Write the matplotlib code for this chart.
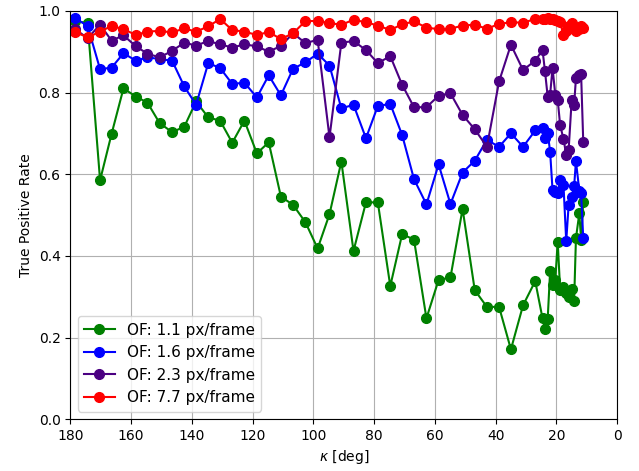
import numpy as np
import matplotlib
matplotlib.use('Agg')
import matplotlib.pyplot as plt

kappa = np.array([178.4, 174.3, 170.2, 166.4, 162.5, 158.4, 154.6, 150.6, 146.5, 142.5,
                  138.6, 134.6, 130.7, 126.7, 122.7, 118.6, 114.7, 110.7, 106.7, 102.6,
                  98.6, 94.7, 90.8, 86.8, 82.7, 78.8, 74.7, 70.8, 66.9, 62.8,
                  58.8, 54.9, 50.9, 46.9, 42.9, 38.9, 35.0, 31.0, 27.0,
                  24.6, 23.8, 22.9, 22.1, 21.3, 20.4, 19.6, 18.8, 17.7, 16.8,
                  16.0, 15.0, 14.2, 13.6, 12.5, 11.9, 11.2])

tpr_11 = [0.975, 0.970, 0.585, 0.699, 0.810, 0.790, 0.775, 0.725, 0.703, 0.716,
          0.778, 0.739, 0.731, 0.677, 0.731, 0.651, 0.678, 0.545, 0.525, 0.482,
          0.418, 0.502, 0.631, 0.412, 0.531, 0.531, 0.326, 0.453, 0.440, 0.247,
          0.341, 0.347, 0.515, 0.316, 0.275, 0.275, 0.171, 0.279, 0.338,
          0.247, 0.220, 0.245, 0.363, 0.328, 0.340, 0.435, 0.316, 0.324, 0.310,
          0.300, 0.320, 0.289, 0.443, 0.504, 0.440, 0.533]

tpr_16 = [0.982, 0.963, 0.857, 0.861, 0.896, 0.878, 0.886, 0.882, 0.878, 0.815,
          0.770, 0.872, 0.860, 0.821, 0.824, 0.788, 0.842, 0.793, 0.858, 0.874,
          0.895, 0.866, 0.761, 0.770, 0.688, 0.767, 0.772, 0.696, 0.588, 0.526,
          0.624, 0.527, 0.604, 0.633, 0.684, 0.667, 0.700, 0.667, 0.707,
          0.712, 0.688, 0.702, 0.655, 0.561, 0.557, 0.553, 0.586, 0.573, 0.436,
          0.525, 0.545, 0.570, 0.632, 0.560, 0.553, 0.443]

tpr_23 = [0.955, 0.933, 0.966, 0.927, 0.940, 0.913, 0.895, 0.886, 0.902, 0.922,
          0.915, 0.926, 0.918, 0.910, 0.918, 0.913, 0.900, 0.914, 0.945, 0.921,
          0.929, 0.690, 0.922, 0.926, 0.904, 0.872, 0.889, 0.819, 0.764, 0.764,
          0.792, 0.798, 0.745, 0.710, 0.667, 0.827, 0.917, 0.855, 0.878,
          0.904, 0.853, 0.790, 0.795, 0.860, 0.795, 0.782, 0.720, 0.686, 0.648,
          0.660, 0.782, 0.770, 0.835, 0.843, 0.845, 0.680]

tpr_77 = [0.948, 0.935, 0.949, 0.963, 0.955, 0.941, 0.949, 0.951, 0.947, 0.957,
          0.949, 0.962, 0.980, 0.953, 0.949, 0.941, 0.948, 0.931, 0.945, 0.975,
          0.975, 0.970, 0.966, 0.978, 0.972, 0.964, 0.953, 0.967, 0.974, 0.959,
          0.955, 0.956, 0.964, 0.966, 0.956, 0.968, 0.972, 0.971, 0.980,
          0.979, 0.981, 0.982, 0.981, 0.980, 0.977, 0.975, 0.972, 0.940, 0.950,
          0.962, 0.970, 0.955, 0.950, 0.955, 0.962, 0.958]

labels = ['OF: 1.1 px/frame', 'OF: 1.6 px/frame', 'OF: 2.3 px/frame', 'OF: 7.7 px/frame']
colors = ['green', 'blue', 'indigo', 'red']

fig, ax = plt.subplots(figsize=(6.39, 4.71), dpi=100)
fig.subplots_adjust(left=0.11, right=0.966, top=0.977, bottom=0.11)

for y, lab, c in zip([tpr_11, tpr_16, tpr_23, tpr_77], labels, colors):
    ax.plot(kappa, y, '-o', color=c, label=lab, markersize=7, linewidth=1.5)

ax.set_xlim(180, 0)
ax.set_ylim(0, 1)
ax.grid(True)
ax.set_xlabel(r'$\kappa$ [deg]')
ax.set_ylabel('True Positive Rate')
ax.legend(loc='lower left', fontsize=11)

fig.savefig('out.png')
